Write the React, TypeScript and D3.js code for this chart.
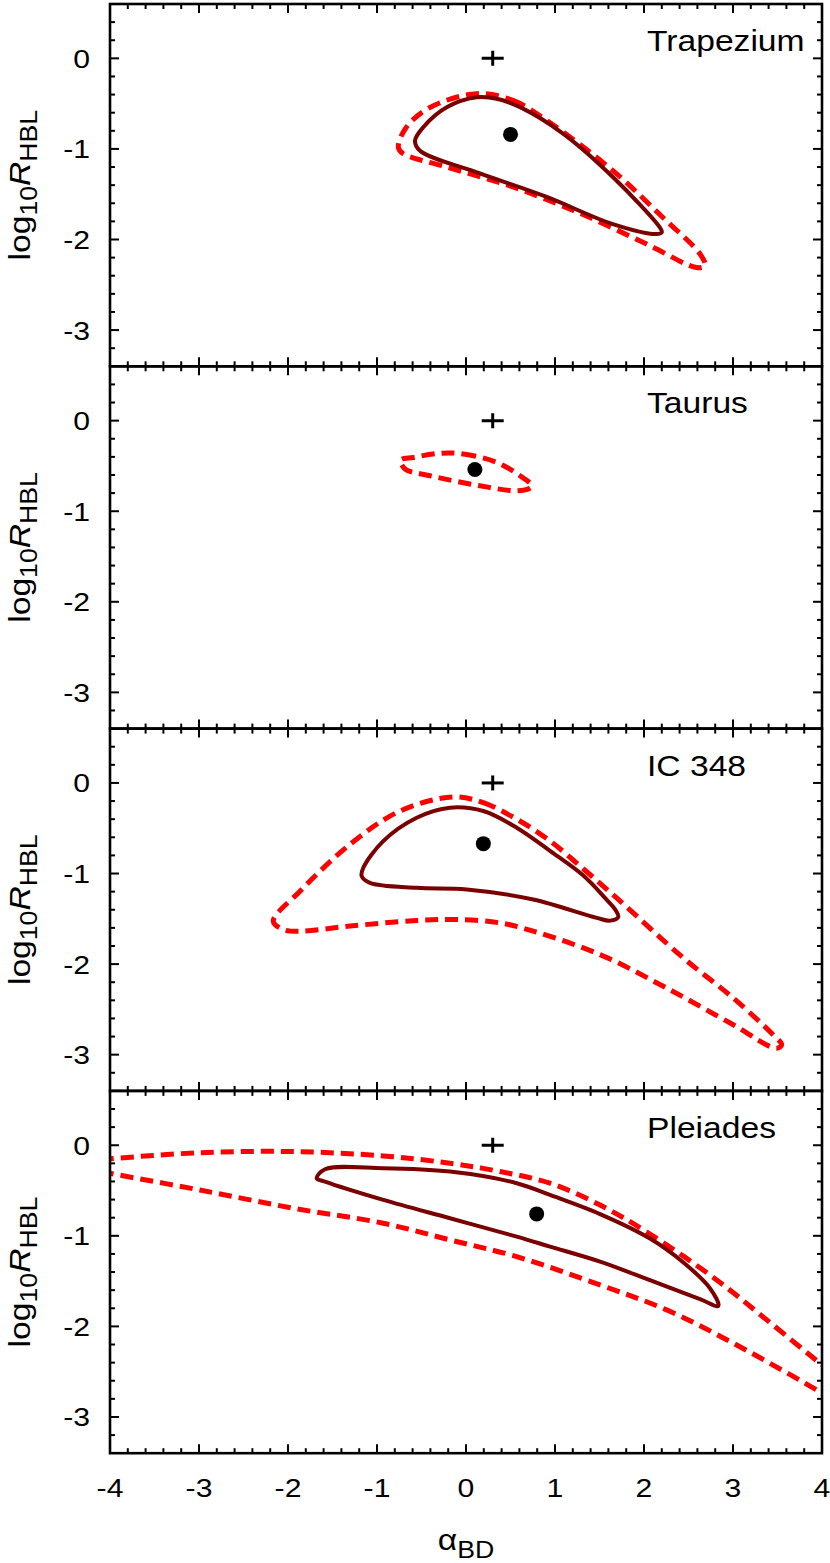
import React from "react";
import * as d3 from "d3";

const W = 830;
const H = 1563;

// axes
const xDomain: [number, number] = [-4, 4];
const yDomain: [number, number] = [-3.4, 0.6];
const xMajorTicks = [-4, -3, -2, -1, 0, 1, 2, 3, 4];
const xTickLabels = ["-4", "-3", "-2", "-1", "0", "1", "2", "3", "4"];
const yMajorTicks = [-3, -2, -1, 0];
const yTickLabels = ["-3", "-2", "-1", "0"];
const panelNames = ["Trapezium", "Taurus", "IC 348", "Pleiades"];

// markers
const plusPoint: [number, number] = [0.3, 0];
const bestFitPoints: [number, number][] = [
  [0.5, -0.84],
  [0.1, -0.54],
  [0.195, -0.67],
  [0.794, -0.758],
];

// contours (closed)
const trapeziumSolid: [number, number][] = [
  [0.12, -0.43], [0.345, -0.446], [0.607, -0.539], [1.09, -0.83], [1.65, -1.31],
  [2.18, -1.87], [2.2, -1.92], [2.14, -1.94], [1.65, -1.83], [0.907, -1.53],
  [0.157, -1.27], [-0.517, -1.02], [-0.573, -0.91], [-0.48, -0.76], [-0.217, -0.54],
];
const trapeziumDashed: [number, number][] = [
  [0.12, -0.39], [0.528, -0.465], [0.907, -0.686], [1.65, -1.24], [2.21, -1.755],
  [2.63, -2.16], [2.685, -2.29], [2.59, -2.31], [2.03, -2.05], [1.28, -1.71],
  [0.528, -1.42], [-0.217, -1.2], [-0.71, -1.05], [-0.76, -0.98], [-0.67, -0.76],
  [-0.4, -0.54],
];
const taurusDashed: [number, number][] = [
  [-0.29, -0.36], [-0.03, -0.368], [0.345, -0.461], [0.607, -0.608], [0.74, -0.719],
  [0.72, -0.744], [0.57, -0.774], [0.157, -0.719], [-0.404, -0.608], [-0.685, -0.534],
  [-0.735, -0.435], [-0.59, -0.406],
];
const ic348Solid: [number, number][] = [
  [-0.18, -0.273], [0.194, -0.31], [0.57, -0.494], [0.944, -0.75], [1.315, -1.02],
  [1.562, -1.27], [1.685, -1.41], [1.711, -1.48], [1.62, -1.52], [1.47, -1.49],
  [0.756, -1.287], [0.008, -1.176], [-0.554, -1.158], [-1.079, -1.103], [-1.172, -1.029],
  [-1.154, -0.937], [-0.93, -0.642], [-0.554, -0.384],
];
const ic348Dashed: [number, number][] = [
  [-0.143, -0.155], [0.194, -0.218], [0.57, -0.4], [0.944, -0.64], [1.32, -0.95],
  [1.693, -1.27], [2.44, -1.93], [3.003, -2.375], [3.45, -2.78],
  [3.547, -2.89], [3.49, -2.93], [3.003, -2.67], [2.255, -2.265], [1.506, -1.895],
  [0.756, -1.637], [0.38, -1.545], [-0.104, -1.508], [-0.554, -1.519], [-1.303, -1.58],
  [-1.865, -1.637], [-2.053, -1.618], [-2.165, -1.527], [-1.865, -1.195], [-1.303, -0.678],
  [-0.742, -0.31],
];
const pleiadesSolid: [number, number][] = [
  [-1.584, -0.265], [-0.929, -0.254], [-0.18, -0.291], [0.57, -0.419], [0.944, -0.549],
  [1.506, -0.76], [2.067, -1.03], [2.45, -1.3], [2.742, -1.58], [2.835, -1.774],
  [2.629, -1.7], [2.067, -1.49], [1.506, -1.285], [0.944, -1.119], [0.57, -1.009],
  [-0.18, -0.806], [-0.929, -0.604], [-1.584, -0.402], [-1.677, -0.364],
];
// open contour branches (clipped by the frame)
const pleiadesDashedUpper: [number, number][] = [
  [-4.1, -0.16], [-4, -0.15], [-2.99, -0.082], [-1.94, -0.07], [-0.929, -0.118],
  [-0.18, -0.199], [0.382, -0.29], [0.944, -0.419], [1.506, -0.66], [2.067, -0.98],
  [2.817, -1.487], [3.379, -1.928], [4.0, -2.425], [4.1, -2.5],
];
const pleiadesDashedLower: [number, number][] = [
  [-4.1, -0.29], [-4, -0.31], [-2.99, -0.494], [-1.94, -0.695], [-0.929, -0.861],
  [-0.18, -1.045], [0.57, -1.23], [1.506, -1.542], [2.255, -1.818], [3.003, -2.185],
  [4.0, -2.737], [4.1, -2.8],
];

const panels = [
  { name: panelNames[0], solid: [trapeziumSolid], dashedClosed: [trapeziumDashed], dashedOpen: [] as [number, number][][], dot: bestFitPoints[0] },
  { name: panelNames[1], solid: [] as [number, number][][], dashedClosed: [taurusDashed], dashedOpen: [] as [number, number][][], dot: bestFitPoints[1] },
  { name: panelNames[2], solid: [ic348Solid], dashedClosed: [ic348Dashed], dashedOpen: [] as [number, number][][], dot: bestFitPoints[2] },
  { name: panelNames[3], solid: [pleiadesSolid], dashedClosed: [] as [number, number][][], dashedOpen: [pleiadesDashedUpper, pleiadesDashedLower], dot: bestFitPoints[3] },
];

const LEFT = 110;
const RIGHT = 822;
const TOP = 4;
const PANEL_H = 362.3;
const FONT = "'Liberation Sans', Arial, Helvetica, sans-serif";
const STRETCH = 1.16;

const SOLID_COLOR = "#7a0000";
const DASH_COLOR = "#ff0000";

export default function App() {
  const x = d3.scaleLinear().domain(xDomain).range([LEFT, RIGHT]);
  const xMinor = d3.range(-4, 4.0001, 0.2).filter((v) => Math.abs(v - Math.round(v)) > 1e-6);
  const yMinor = d3.range(-3.4, 0.6001, 0.2).filter((v) => Math.abs(v - Math.round(v)) > 1e-6 && v > -3.39 && v < 0.59);
  const bottom = TOP + PANEL_H * 4;

  return (
    <svg width={W} height={H} style={{ display: "block", position: "absolute", left: 0, top: 0, background: "#fff" }} fontFamily={FONT}>
      <rect x={0} y={0} width={W} height={H} fill="#fff" />
      {panels.map((p, i) => {
        const top = TOP + PANEL_H * i;
        const y = d3.scaleLinear().domain(yDomain).range([top + PANEL_H, top]);
        const closed = d3
          .line<[number, number]>()
          .x((d) => x(d[0]))
          .y((d) => y(d[1]))
          .curve(d3.curveCatmullRomClosed.alpha(0.5));
        const open = d3
          .line<[number, number]>()
          .x((d) => x(d[0]))
          .y((d) => y(d[1]))
          .curve(d3.curveCatmullRom.alpha(0.5));
        const clipId = `clip-${i}`;
        const px = x(plusPoint[0]);
        const py = y(plusPoint[1]);
        return (
          <g key={i}>
            <defs>
              <clipPath id={clipId}>
                <rect x={LEFT} y={top} width={RIGHT - LEFT} height={PANEL_H} />
              </clipPath>
            </defs>
            <g clipPath={`url(#${clipId})`}>
              {p.dashedClosed.map((c, k) => (
                <path key={"dc" + k} d={closed(c) || ""} fill="none" stroke={DASH_COLOR} strokeWidth={5} strokeDasharray="13,7" />
              ))}
              {p.dashedOpen.map((c, k) => (
                <path key={"do" + k} d={open(c) || ""} fill="none" stroke={DASH_COLOR} strokeWidth={5} strokeDasharray="13,7" />
              ))}
              {p.solid.map((c, k) => (
                <path key={"s" + k} d={closed(c) || ""} fill="none" stroke={SOLID_COLOR} strokeWidth={4} strokeLinejoin="round" />
              ))}
              <circle cx={x(p.dot[0])} cy={y(p.dot[1])} r={7.5} fill="#000" />
              <line x1={px - 11} x2={px + 11} y1={py} y2={py} stroke="#000" strokeWidth={3} />
              <line x1={px} x2={px} y1={py - 7.5} y2={py + 7.5} stroke="#000" strokeWidth={3} />
            </g>
            {/* ticks */}
            <g stroke="#000" strokeWidth={2}>
              {xMajorTicks.map((v) => (
                <g key={"xM" + v}>
                  <line x1={x(v)} x2={x(v)} y1={top} y2={top + 9} />
                  <line x1={x(v)} x2={x(v)} y1={top + PANEL_H} y2={top + PANEL_H - 9} />
                </g>
              ))}
              {xMinor.map((v) => (
                <g key={"xm" + v.toFixed(2)}>
                  <line x1={x(v)} x2={x(v)} y1={top} y2={top + 5} />
                  <line x1={x(v)} x2={x(v)} y1={top + PANEL_H} y2={top + PANEL_H - 5} />
                </g>
              ))}
              {yMajorTicks.map((v) => (
                <g key={"yM" + v}>
                  <line x1={LEFT} x2={LEFT + 9} y1={y(v)} y2={y(v)} />
                  <line x1={RIGHT} x2={RIGHT - 9} y1={y(v)} y2={y(v)} />
                </g>
              ))}
              {yMinor.map((v) => (
                <g key={"ym" + v.toFixed(2)}>
                  <line x1={LEFT} x2={LEFT + 5} y1={y(v)} y2={y(v)} />
                  <line x1={RIGHT} x2={RIGHT - 5} y1={y(v)} y2={y(v)} />
                </g>
              ))}
            </g>
            <rect x={LEFT} y={top} width={RIGHT - LEFT} height={PANEL_H} fill="none" stroke="#000" strokeWidth={2.6} />
            {/* y tick labels */}
            {yMajorTicks.map((v, k) => (
              <text key={"yl" + v} transform={`translate(90,${y(v) + 9.5}) scale(${STRETCH},1)`} textAnchor="end" fontSize={26} fill="#000">
                {yTickLabels[k]}
              </text>
            ))}
            {/* panel title */}
            <text transform={`translate(647,${top + 47}) scale(${STRETCH},1)`} fontSize={29} fill="#000">
              {p.name}
            </text>
            {/* y axis label */}
            <text transform={`translate(30,${top + PANEL_H / 2}) rotate(-90) scale(${STRETCH},1)`} textAnchor="middle" fontSize={29} fill="#000">
              <tspan>log</tspan>
              <tspan dy={7} fontSize={23}>10</tspan>
              <tspan dy={-7} fontStyle="italic">R</tspan>
              <tspan dy={7} fontSize={23}>HBL</tspan>
            </text>
          </g>
        );
      })}
      {/* x tick labels */}
      {xMajorTicks.map((v, k) => (
        <text key={"xl" + v} transform={`translate(${x(v)},${bottom + 44}) scale(${STRETCH},1)`} textAnchor="middle" fontSize={26} fill="#000">
          {xTickLabels[k]}
        </text>
      ))}
      <text transform={`translate(${(LEFT + RIGHT) / 2},${bottom + 97}) scale(${STRETCH},1)`} textAnchor="middle" fontSize={29} fill="#000">
        <tspan>α</tspan>
        <tspan dy={8} fontSize={23}>BD</tspan>
      </text>
    </svg>
  );
}
